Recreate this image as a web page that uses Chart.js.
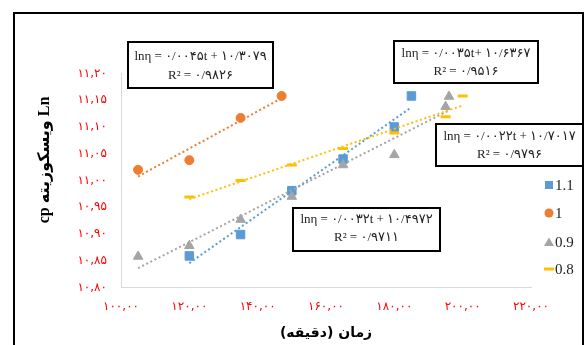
<!DOCTYPE html>
<html lang="fa">
<head>
<meta charset="UTF-8">
<title>viscosity</title>
<script src="https://cdn.jsdelivr.net/npm/chart.js@4.4.1/dist/chart.umd.min.js"></script>
<style>
    html, body { margin: 0; padding: 0; background: #fff; }
</style>
</head>
<body>
<canvas id="mychart" width="584" height="345"></canvas>
<script>
    // series (time in minutes, ln viscosity)
    var seriesNames = ['1.1', '1', '0.9', '0.8'];
    var times11 = [120, 135, 150, 165, 180, 185];
    var lnVisc11 = [10.859, 10.899, 10.981, 11.040, 11.100, 11.158];
    var times10 = [105, 120, 135, 147];
    var lnVisc10 = [11.020, 11.038, 11.117, 11.158];
    var times09 = [105, 120, 135, 150, 165, 180, 195, 196];
    var lnVisc09 = [10.858, 10.878, 10.927, 10.970, 11.029, 11.048, 11.138, 11.157];
    var times08 = [120, 135, 150, 165, 180, 195, 200];
    var lnVisc08 = [10.969, 11.000, 11.029, 11.060, 11.089, 11.119, 11.158];

    var xTicks = [100, 120, 140, 160, 180, 200, 220];
    var yTicks = [10.80, 10.85, 10.90, 10.95, 11.00, 11.05, 11.10, 11.15, 11.20];

    var fitLabels = [
        ['lnη = ۰/۰۰۴۵t + ۱۰/۳۰۷۹', 'R² = ۰/۹۸۲۶'],
        ['lnη = ۰/۰۰۳۵t+ ۱۰/۶۳۶۷', 'R² = ۰/۹۵۱۶'],
        ['lnη = ۰/۰۰۲۲t + ۱۰/۷۰۱۷', 'R² = ۰/۹۷۹۶'],
        ['lnη = ۰/۰۰۳۲t + ۱۰/۴۹۷۲', 'R² = ۰/۹۷۱۱']
    ];

    var colors = ['#5B9BD5', '#ED7D31', '#A5A5A5', '#FFC000'];

    function fa(s) {
        return String(s).replace(/[0-9]/g, function (d) { return '۰۱۲۳۴۵۶۷۸۹'[d]; });
    }

    function toPoints(xs, ys) {
        return xs.map(function (x, i) { return { x: x, y: ys[i] }; });
    }

    // least squares line over the x range of the series
    function trend(xs, ys) {
        var n = xs.length, mx = 0, my = 0, sxy = 0, sxx = 0;
        xs.forEach(function (x, i) { mx += x / n; my += ys[i] / n; });
        xs.forEach(function (x, i) { sxy += (x - mx) * (ys[i] - my); sxx += (x - mx) * (x - mx); });
        var b = sxy / sxx;
        var x0 = Math.min.apply(null, xs), x1 = Math.max.apply(null, xs);
        return [{ x: x0, y: my + b * (x0 - mx) }, { x: x1, y: my + b * (x1 - mx) }];
    }

    function markerSet(i, xs, ys, style, radius, bw) {
        return {
            label: seriesNames[i],
            data: toPoints(xs, ys),
            pointStyle: style,
            pointRadius: radius,
            pointBorderWidth: bw,
            backgroundColor: colors[i],
            borderColor: colors[i],
            order: 8 - i
        };
    }

    function trendSet(i, xs, ys) {
        return {
            label: 'trend',
            data: trend(xs, ys),
            showLine: true,
            pointRadius: 0,
            borderColor: colors[i],
            borderWidth: 2,
            borderDash: [2, 2.6],
            fill: false,
            order: 4 - i
        };
    }

    var boxes = [
        { x: 128, y: 42, w: 145, h: 46, l1: 57, l2: 76 },
        { x: 394, y: 41, w: 144, h: 42, l1: 54, l2: 72 },
        { x: 436, y: 124, w: 147, h: 42, l1: 137, l2: 155 },
        { x: 293, y: 208, w: 147, h: 43, l1: 220, l2: 238 }
    ];

    var extras = {
        id: 'extras',
        afterDraw: function (chart) {
            var ctx = chart.ctx;
            ctx.save();

            // equation boxes
            boxes.forEach(function (b, i) {
                ctx.fillStyle = '#fff';
                ctx.fillRect(b.x, b.y, b.w, b.h);
                ctx.lineWidth = 2;
                ctx.strokeStyle = '#000';
                ctx.strokeRect(b.x, b.y, b.w, b.h);
                ctx.fillStyle = '#222';
                ctx.font = '13px "Liberation Serif", "DejaVu Sans", serif';
                ctx.textAlign = 'center';
                ctx.textBaseline = 'middle';
                ctx.fillText(fitLabels[i][0], b.x + b.w / 2, b.l1);
                ctx.fillText(fitLabels[i][1], b.x + b.w / 2, b.l2);
            });

            // legend
            var ly = [185, 213, 242, 269];
            for (var i = 0; i < 4; i++) {
                var ds = chart.data.datasets[i];
                var cx = 549, cy = ly[i];
                ctx.fillStyle = colors[i];
                ctx.strokeStyle = colors[i];
                ctx.beginPath();
                if (ds.pointStyle === 'rect') {
                    ctx.fillRect(cx - 4, cy - 4, 8, 8);
                } else if (ds.pointStyle === 'circle') {
                    ctx.arc(cx, cy, 4.5, 0, Math.PI * 2);
                    ctx.fill();
                } else if (ds.pointStyle === 'triangle') {
                    ctx.moveTo(cx - 5, cy + 4);
                    ctx.lineTo(cx + 5, cy + 4);
                    ctx.lineTo(cx, cy - 4.5);
                    ctx.closePath();
                    ctx.fill();
                } else {
                    ctx.lineWidth = 3;
                    ctx.moveTo(cx - 5, cy);
                    ctx.lineTo(cx + 5, cy);
                    ctx.stroke();
                }
                ctx.fillStyle = '#222';
                ctx.font = '15px "Liberation Serif", serif';
                ctx.textAlign = 'left';
                ctx.textBaseline = 'middle';
                ctx.fillText(ds.label, 555, cy + 1);
            }

            // y axis title
            ctx.translate(45, 160);
            ctx.rotate(-Math.PI / 2);
            ctx.fillStyle = '#000';
            ctx.font = 'bold 16px "Liberation Serif", "DejaVu Sans", serif';
            ctx.textAlign = 'center';
            ctx.textBaseline = 'middle';
            ctx.fillText('cp ویسکوزیته Ln', 0, 0);
            ctx.restore();

            // outer frame
            ctx.save();
            ctx.lineWidth = 2;
            ctx.strokeStyle = '#000';
            ctx.strokeRect(14, 13, 569, 400);
            ctx.restore();
        }
    };

    var tickFont = { family: '"DejaVu Sans", sans-serif', size: 12 };

    var mychart = new Chart(document.getElementById('mychart'), {
        type: 'scatter',
        data: {
            datasets: [
                markerSet(0, times11, lnVisc11, 'rect', 6, 1),
                markerSet(1, times10, lnVisc10, 'circle', 4.5, 1),
                markerSet(2, times09, lnVisc09, 'triangle', 5.5, 1),
                markerSet(3, times08, lnVisc08, 'line', 5, 3),
                trendSet(0, times11, lnVisc11),
                trendSet(1, times10, lnVisc10),
                trendSet(2, times09, lnVisc09),
                trendSet(3, times08, lnVisc08)
            ]
        },
        options: {
            responsive: false,
            animation: false,
            events: [],
            layout: { padding: { left: 0, top: 73.5, right: 53, bottom: 0 } },
            plugins: { legend: { display: false }, tooltip: { enabled: false } },
            scales: {
                x: {
                    type: 'linear',
                    min: 100,
                    max: 220,
                    afterBuildTicks: function (s) { s.ticks = xTicks.map(function (v) { return { value: v }; }); },
                    afterFit: function (s) { s.height = 57.5; },
                    grid: { display: true, drawOnChartArea: false, drawTicks: false },
                    border: { display: true, color: '#D9D9D9', width: 1 },
                    ticks: {
                        color: '#FF0000',
                        font: tickFont,
                        padding: 12,
                        maxRotation: 0,
                        autoSkip: false,
                        callback: function (v) { return fa(v.toFixed(2).replace('.', ',')); }
                    },
                    title: {
                        display: true,
                        text: '\u200Fزمان (دقیقه)\u200F',
                        color: '#000',
                        font: { family: '"DejaVu Sans", sans-serif', size: 14, weight: 'bold' },
                        padding: { top: 0, bottom: 3 }
                    }
                },
                y: {
                    type: 'linear',
                    min: 10.8,
                    max: 11.2,
                    afterBuildTicks: function (s) { s.ticks = yTicks.map(function (v) { return { value: v }; }); },
                    afterFit: function (s) { s.width = 121; },
                    grid: { display: true, drawOnChartArea: false, drawTicks: false },
                    border: { display: true, color: '#D9D9D9', width: 1 },
                    ticks: {
                        color: '#FF0000',
                        font: tickFont,
                        padding: 14,
                        autoSkip: false,
                        callback: function (v) { return fa(v.toFixed(2).replace('.', ',')); }
                    }
                }
            }
        },
        plugins: [extras]
    });
</script>
</body>
</html>
